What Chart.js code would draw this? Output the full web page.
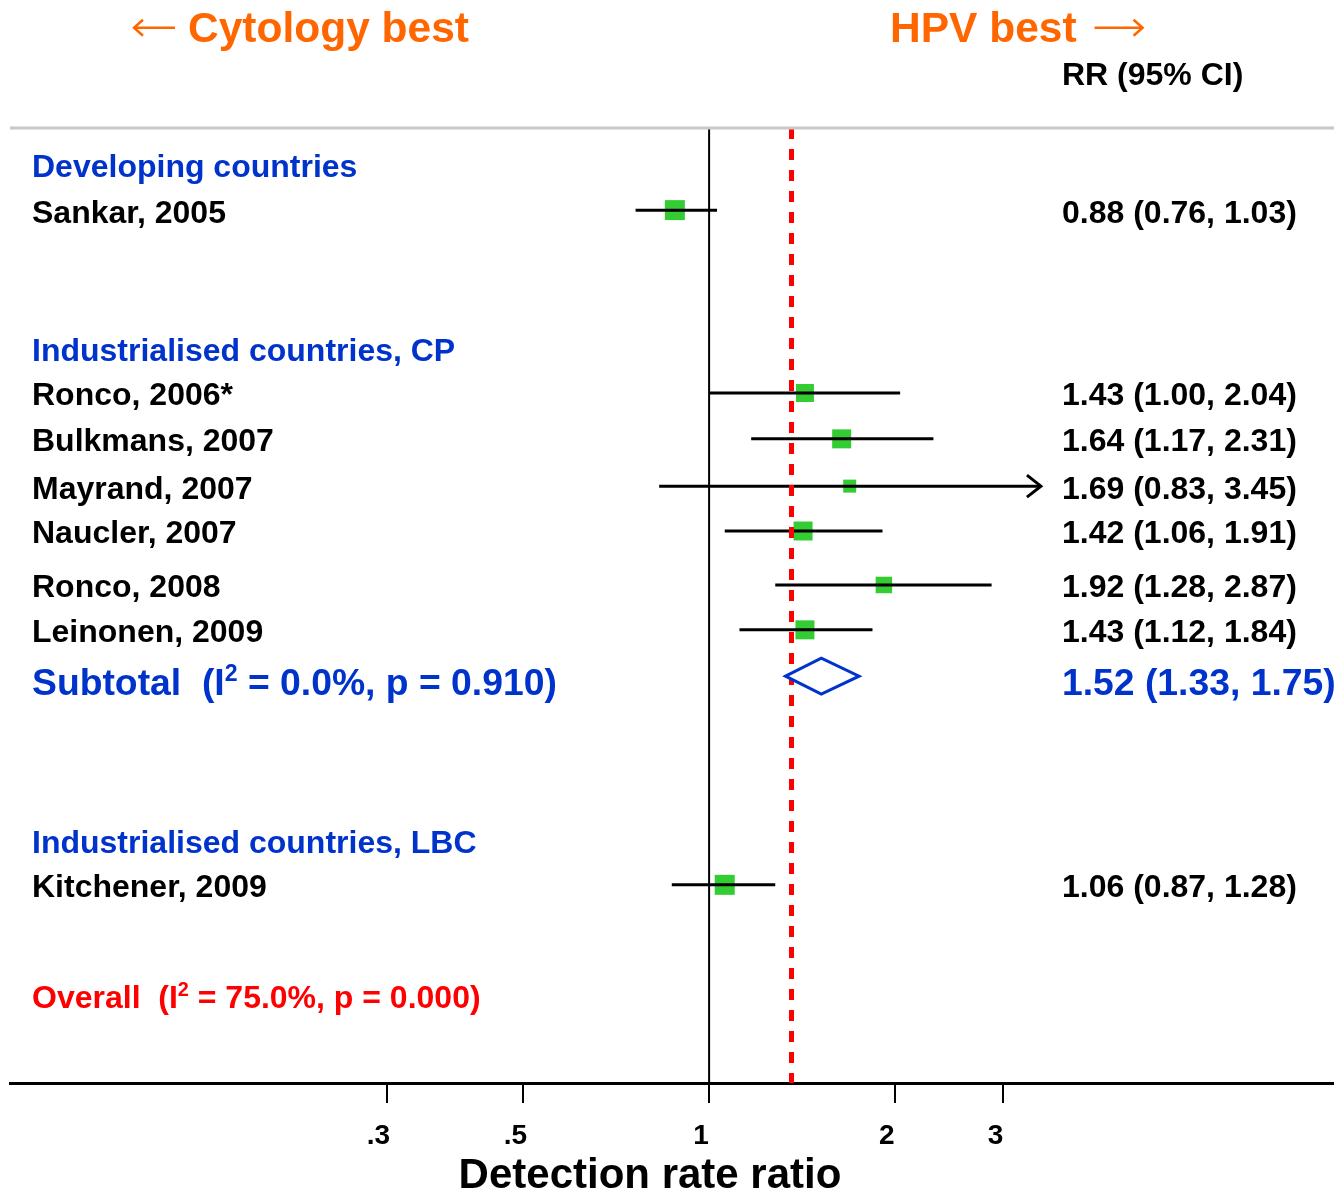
<!DOCTYPE html>
<html>
<head>
  <meta charset="UTF-8">
  <title>Detection rate ratio</title>
  <script src="https://cdn.jsdelivr.net/npm/chart.js"></script>
  <style>
    body { margin: 0; background: #fff; }
    #wrap { width: 1334px; height: 1192px; }
  </style>
</head>
<body>
  <div id="wrap"><canvas id="forest" width="1334" height="1192"></canvas></div>

  <script>
    // studies, RR and 95% CI
    var studies = ["Sankar, 2005", "Ronco, 2006*", "Bulkmans, 2007", "Mayrand, 2007",
                   "Naucler, 2007", "Ronco, 2008", "Leinonen, 2009", "Kitchener, 2009"];
    var rr     = [0.88, 1.43, 1.64, 1.69, 1.42, 1.92, 1.43, 1.06];
    var ciLow  = [0.76, 1.00, 1.17, 0.83, 1.06, 1.28, 1.12, 0.87];
    var ciHigh = [1.03, 2.04, 2.31, 3.45, 1.91, 2.87, 1.84, 1.28];
    var weights = [20, 18, 19, 13, 19, 16.5, 19, 20];   // box side
    var studyRows = [1.72, 5.55, 6.51, 7.50, 8.44, 9.57, 10.51, 15.85];

    // group headers
    var groups = ["Developing countries", "Industrialised countries, CP", "Industrialised countries, LBC"];
    var groupRows = [0.78, 4.65, 14.95];

    // subtotal (CP group) and overall
    var subtotal = { est: 1.52, lo: 1.33, hi: 1.75, i2: "0.0%", p: "0.910", row: 11.48 };
    var overall = { est: 1.36, i2: "75.0%", p: "0.000", row: 18.18 };

    // axis
    var tickVals = [0.3, 0.5, 1, 2, 3];
    var tickLabels = [".3", ".5", "1", "2", "3"];
    var xMin = 0.0736, xMax = 10.3;
    var rowCount = 20;

    var FONT = "'Liberation Sans', Arial, Helvetica, sans-serif";
    var BLUE = "#0033cc", ORANGE = "#ff6600", GREEN = "#33cc33";

    function fmt(v) { return v.toFixed(2); }

    function text(ctx, s, x, y, size, color) {
      ctx.font = "bold " + size + "px " + FONT;
      ctx.fillStyle = color;
      ctx.textAlign = "left";
      ctx.textBaseline = "alphabetic";
      ctx.fillText(s, x, y + 0.358 * size);
      return ctx.measureText(s).width;
    }

    // text with I² superscript
    function rich(ctx, parts, x, y, size, color) {
      var cx = x;
      parts.forEach(function (p) {
        var s = p.sup ? size * 0.62 : size;
        ctx.font = "bold " + s + "px " + FONT;
        ctx.fillStyle = color;
        ctx.textAlign = "left";
        ctx.textBaseline = "alphabetic";
        ctx.fillText(p.t, cx, y + 0.358 * size - (p.sup ? size * 0.36 : 0));
        cx += ctx.measureText(p.t).width;
      });
    }

    // thin arrow for the headings
    function arrow(ctx, x0, x1, y, color) {
      var dir = x1 > x0 ? 1 : -1;
      ctx.strokeStyle = color;
      ctx.lineWidth = 2.5;
      ctx.beginPath();
      ctx.moveTo(x0, y);
      ctx.lineTo(x1, y);
      ctx.moveTo(x1 - dir * 9, y - 8);
      ctx.lineTo(x1, y);
      ctx.lineTo(x1 - dir * 9, y + 8);
      ctx.stroke();
    }

    var datasets = [];
    // null line at 1
    datasets.push({ data: [{ x: 1, y: 0 }, { x: 1, y: rowCount }], showLine: true,
      borderColor: "#000", borderWidth: 2, pointRadius: 0, clip: false });
    // overall estimate, dashed
    datasets.push({ data: [{ x: overall.est, y: 0 }, { x: overall.est, y: rowCount }], showLine: true,
      borderColor: "#ff0000", borderWidth: 5, borderDash: [11, 10], pointRadius: 0, clip: false });
    // CI lines
    studies.forEach(function (s, i) {
      datasets.push({ data: [{ x: ciLow[i], y: studyRows[i] }, { x: ciHigh[i], y: studyRows[i] }],
        showLine: true, borderColor: "#000", borderWidth: 3, pointRadius: 0, clip: false });
    });
    // boxes
    datasets.push({
      data: rr.map(function (v, i) { return { x: v, y: studyRows[i] }; }),
      pointStyle: "rect",
      pointRadius: weights.map(function (w) { return w / Math.SQRT2; }),
      backgroundColor: GREEN, borderWidth: 0, clip: false
    });

    var forestText = {
      id: "forestText",
      afterDatasetsDraw: function (chart) {
        var ctx = chart.ctx, xs = chart.scales.x, ys = chart.scales.y, a = chart.chartArea;
        ctx.save();

        // top rule
        ctx.strokeStyle = "#c8c8c8";
        ctx.lineWidth = 3;
        ctx.beginPath();
        ctx.moveTo(a.left, a.top);
        ctx.lineTo(a.right, a.top);
        ctx.stroke();

        // arrows for CIs past the last tick
        ctx.strokeStyle = "#000";
        ctx.lineWidth = 3;
        studies.forEach(function (s, i) {
          if (ciHigh[i] > tickVals[tickVals.length - 1]) {
            var px = xs.getPixelForValue(ciHigh[i]), py = ys.getPixelForValue(studyRows[i]);
            ctx.beginPath();
            ctx.moveTo(px - 14, py - 11);
            ctx.lineTo(px, py);
            ctx.lineTo(px - 14, py + 11);
            ctx.stroke();
          }
        });

        // subtotal diamond
        var dy = ys.getPixelForValue(subtotal.row);
        ctx.strokeStyle = BLUE;
        ctx.lineWidth = 3;
        ctx.fillStyle = "#fff";
        ctx.beginPath();
        ctx.moveTo(xs.getPixelForValue(subtotal.lo), dy);
        ctx.lineTo(xs.getPixelForValue(subtotal.est), dy - 18);
        ctx.lineTo(xs.getPixelForValue(subtotal.hi), dy);
        ctx.lineTo(xs.getPixelForValue(subtotal.est), dy + 18);
        ctx.closePath();
        ctx.fill();
        ctx.stroke();

        // headings
        var hy = ys.getPixelForValue(-2.12);
        arrow(ctx, 175, 134, hy + 1, ORANGE);
        text(ctx, "Cytology best", 188, hy, 42.5, ORANGE);
        var w = text(ctx, "HPV best", 890, hy, 42.5, ORANGE);
        arrow(ctx, 890 + w + 18, 890 + w + 66, hy + 1, ORANGE);
        text(ctx, "RR (95% CI)", 1062, ys.getPixelForValue(-1.15), 32, "#000");

        // group headers
        groups.forEach(function (g, i) {
          text(ctx, g, 32, ys.getPixelForValue(groupRows[i]), 32, BLUE);
        });

        // study rows
        studies.forEach(function (s, i) {
          var y = ys.getPixelForValue(studyRows[i]) + 1;
          text(ctx, s, 32, y, 32, "#000");
          text(ctx, fmt(rr[i]) + " (" + fmt(ciLow[i]) + ", " + fmt(ciHigh[i]) + ")", 1062, y, 32, "#000");
        });

        // subtotal
        var sy = dy + 5;
        rich(ctx, [{ t: "Subtotal  (I" }, { t: "2", sup: true },
                   { t: " = " + subtotal.i2 + ", p = " + subtotal.p + ")" }], 32, sy, 37.3, BLUE);
        text(ctx, fmt(subtotal.est) + " (" + fmt(subtotal.lo) + ", " + fmt(subtotal.hi) + ")", 1062, sy, 37.3, BLUE);

        // overall
        rich(ctx, [{ t: "Overall  (I" }, { t: "2", sup: true },
                   { t: " = " + overall.i2 + ", p = " + overall.p + ")" }], 32,
             ys.getPixelForValue(overall.row), 32, "#ff0000");

        // axis title
        ctx.font = "bold 42px " + FONT;
        ctx.fillStyle = "#000";
        ctx.textAlign = "center";
        ctx.textBaseline = "alphabetic";
        ctx.fillText("Detection rate ratio", 650, 1188);

        ctx.restore();
      }
    };

    var chart = new Chart(document.getElementById("forest").getContext("2d"), {
      type: "scatter",
      data: { datasets: datasets },
      options: {
        responsive: false,
        animation: false,
        layout: { autoPadding: false, padding: { left: 10, right: 0, top: 128, bottom: 0 } },
        plugins: { legend: { display: false }, tooltip: { enabled: false } },
        scales: {
          x: {
            type: "logarithmic",
            min: xMin,
            max: xMax,
            afterFit: function (scale) { scale.height = 109; },
            afterBuildTicks: function (scale) {
              scale.ticks = tickVals.map(function (v) { return { value: v }; });
            },
            grid: { drawOnChartArea: false, drawTicks: true, tickLength: 20, color: "#000", lineWidth: 2 },
            border: { display: true, color: "#000", width: 3 },
            ticks: {
              autoSkip: false,
              maxRotation: 0,
              padding: 16,
              labelOffset: -8,
              color: "#000",
              font: { family: FONT, size: 28, weight: "bold" },
              callback: function (v, i) { return tickLabels[i]; }
            }
          },
          y: {
            type: "linear",
            display: false,
            reverse: true,
            min: 0,
            max: rowCount
          }
        }
      },
      plugins: [forestText]
    });
  </script>
</body>
</html>
